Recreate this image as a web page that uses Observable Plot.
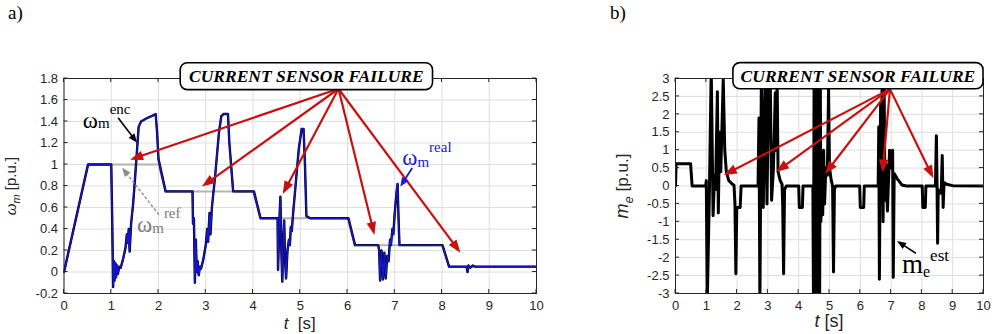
<!DOCTYPE html>
<html><head><meta charset="utf-8">
<script src="https://cdn.jsdelivr.net/npm/d3@7"></script>
<script src="https://cdn.jsdelivr.net/npm/@observablehq/plot@0.6"></script>
<style>
html,body{margin:0;padding:0;background:#fff;}
#wrap{position:relative;width:999px;height:334px;overflow:hidden;}
.pan{position:absolute;top:0;}
.pan svg{overflow:visible;}
.tag{position:absolute;top:1px;font-family:"Liberation Serif","Times New Roman",serif;font-size:19px;color:#000;line-height:24px;}
</style></head><body>
<div id="wrap">
 <div id="pa" class="pan" style="left:0px"></div>
 <div id="pb" class="pan" style="left:560px"></div>
 <div class="tag" style="left:8px">a)</div>
 <div class="tag" style="left:610px">b)</div>
</div>
<script>
// ---------- tick values ----------
const tTicks = [0,1,2,3,4,5,6,7,8,9,10];
const wTicks = [-0.2,0,0.2,0.4,0.6,0.8,1,1.2,1.4,1.6,1.8];
const mTicks = [-3,-2.5,-2,-1.5,-1,-0.5,0,0.5,1,1.5,2,2.5,3];

// ---------- panel a: speed (p.u.) ----------
const wRefT = [0,0.5,2.0,2.15,4.0,4.15,6.0,6.15,8.0,8.15,10];
const wRefV = [0,1,1,0.75,0.75,0.5,0.5,0.25,0.25,0.05,0.05];

const wRealT = [0,0.51,1.0,1.02,1.04,1.06,1.07,1.09,1.1,1.12,
 1.14,1.17,1.2,1.25,1.3,1.33,1.35,1.37,1.39,1.42,
 1.46,1.5,1.54,1.58,1.63,1.75,1.9,1.94,1.97,2.0,
 2.15,2.72,2.73,2.75,2.77,2.79,2.81,2.83,2.85,2.88,
 2.9,2.95,3.0,3.03,3.05,3.08,3.1,3.13,3.2,3.28,
 3.33,3.38,3.47,3.5,3.58,4.02,4.16,4.52,4.53,4.56,
 4.58,4.6,4.62,4.64,4.66,4.68,4.7,4.73,4.76,4.78,
 4.8,4.82,4.85,4.9,4.97,5.03,5.07,5.1,5.13,5.21,
 6.02,6.16,6.65,6.67,6.69,6.72,6.75,6.78,6.81,6.84,
 6.87,6.9,6.92,6.95,6.97,7.0,7.04,7.06,7.08,7.1,
 8.01,8.15,8.52,8.54,8.56,8.6,8.65,8.7,10];
const wRealV = [0,1.0,1.0,0.5,-0.14,0.1,-0.08,0.08,-0.05,0.06,
 -0.02,0.05,0.04,0.12,0.22,0.35,0.27,0.4,0.19,0.45,
 0.62,0.85,1.1,1.35,1.4,1.43,1.46,1.47,1.3,1.05,
 0.75,0.75,0.45,0.5,-0.1,0.3,0.0,0.1,-0.03,0.05,
 0.03,0.12,0.25,0.4,0.28,0.55,0.35,0.6,0.9,1.3,
 1.45,1.47,1.47,1.2,0.75,0.75,0.5,0.5,0.02,0.5,
 0.7,0.2,-0.09,0.3,0.48,0.1,-0.06,0.2,0.3,0.25,
 0.42,0.38,0.55,0.8,1.15,1.33,1.33,1.0,0.52,0.5,
 0.5,0.25,0.25,0.2,-0.08,0.2,-0.07,0.18,-0.06,0.15,
 0.1,0.3,0.25,0.4,0.35,0.55,0.75,0.82,0.5,0.25,
 0.25,0.05,0.05,0.0,0.06,0.04,0.06,0.05,0.05];
const wEncT = wRealT;
const wEncV = wRealV;

// ---------- panel b: electromagnetic torque estimate (p.u.) ----------
const meT = [0,0.02,0.49,0.54,0.98,1.0,1.03,1.1,1.16,1.22,
 1.27,1.3,1.36,1.39,1.43,1.47,1.55,1.6,1.65,1.73,
 1.85,1.9,1.93,1.96,1.99,2.1,2.13,2.68,2.71,2.74,
 2.79,2.85,2.92,2.97,3.03,3.08,3.12,3.18,3.24,3.27,
 3.3,3.33,3.4,3.46,3.48,3.51,3.54,3.6,4.0,4.02,
 4.12,4.14,4.46,4.48,4.5,4.52,4.54,4.56,4.58,4.6,
 4.62,4.64,4.66,4.68,4.7,4.72,4.75,4.78,4.81,4.84,
 4.88,4.93,4.97,5.0,5.05,5.1,5.13,5.16,5.2,5.98,
 6.0,6.11,6.13,6.58,6.6,6.62,6.66,6.68,6.71,6.74,
 6.77,6.8,6.84,6.88,6.95,6.98,7.05,7.07,7.1,7.2,
 7.35,7.5,8.01,8.03,8.11,8.13,8.44,8.47,8.49,8.51,
 8.53,8.6,8.63,8.66,8.69,8.72,8.8,9.0,10];
const meV = [0,0.62,0.62,0,0,0.15,-3.3,-0.2,3.3,-0.83,
 0.3,-0.1,2.63,-0.75,1.5,0.4,2.97,1.0,0.4,0.15,
 0.05,0.02,-0.5,-2.45,-0.6,-0.6,0,0,1.9,-3.3,
 3.3,-0.6,3.3,-0.5,3.3,2.7,-0.4,0.5,2.6,1.0,
 2.95,0.4,0.15,0.05,-0.5,-2.45,-0.1,0,0,-0.6,
 -0.6,0,0,-3.3,3.3,-3.3,3.3,-3.3,3.3,-3.3,
 3.3,-3.3,3.3,-3.3,3.3,-1.0,0.3,-0.8,1.0,-0.5,
 0.5,0.3,2.7,0.5,0.2,0.0,-2.4,-0.1,0,0,
 -0.6,-0.6,0,0,1.65,-2.6,2.3,-0.5,3.3,-1.0,
 3.3,-0.4,0.6,-0.7,1.0,0.5,1.0,-2.55,0.35,0.2,
 0.03,0,0,-0.6,-0.6,0,0,1.4,0.2,-1.6,
 -0.1,-0.2,-0.15,0.85,-0.6,0.1,0.05,0.01,0];

// ---------- annotations (data coordinates) ----------
const titleText = "CURRENT SENSOR FAILURE";
const boxA = [2.47, 7.81, 1.942, 1.692];     // t0, t1, vTop, vBottom
const boxB = [1.88, 10.0, 3.43, 2.70];
const failAFrom = [5.82, 1.70];
const failAToT = [1.41, 2.93, 4.64, 6.58, 8.40];
const failAToV = [1.04, 0.79, 0.72, 0.34, 0.175];
const failBFrom = [6.98, 2.69];
const failBToT = [1.59, 3.28, 4.87, 6.74, 8.39];
const failBToV = [0.29, 0.38, 0.32, 0.36, 0.20];

const SANS = "'Liberation Sans', Arial, Helvetica, sans-serif";
const SERIF = "'Liberation Serif', 'Times New Roman', serif";
const zip = (T, V) => T.slice(0, Math.min(T.length, V.length)).map((t, i) => ({t, v: V[i]}));

function panel({width, ml, mr, yDomain, yTicks, lines}) {
  return Plot.plot({
    width, height: 334, marginTop: 78, marginBottom: 41, marginLeft: ml, marginRight: mr,
    style: {fontFamily: SANS, fontSize: "13px", color: "#262626", background: "transparent", overflow: "visible"},
    x: {domain: [0, 10]},
    y: {domain: yDomain},
    marks: [
      Plot.gridX({ticks: tTicks, stroke: "#dedede", strokeOpacity: 1}),
      Plot.gridY({ticks: yTicks, stroke: "#dedede", strokeOpacity: 1}),
      ...lines,
      Plot.frame({stroke: "#262626", strokeWidth: 1}),
      Plot.axisX({ticks: tTicks, tickSize: 0, tickPadding: 7, tickFormat: d => String(d), label: null}),
      Plot.axisY({ticks: yTicks, tickSize: 0, tickPadding: 6, tickFormat: d => String(d), label: null})
    ]
  });
}

const pa = panel({
  width: 560, ml: 63.5, mr: 24, yDomain: [-0.2, 1.8], yTicks: wTicks,
  lines: [
    Plot.line(zip(wRefT, wRefV), {x: "t", y: "v", stroke: "#b4b4b4", strokeWidth: 2, clip: true}),
    Plot.line(zip(wEncT, wEncV), {x: "t", y: "v", stroke: "#000", strokeWidth: 2.4, clip: true}),
    Plot.line(zip(wRealT, wRealV), {x: "t", y: "v", stroke: "#1414c8", strokeWidth: 1.5, clip: true})
  ]
});
const pb = panel({
  width: 439, ml: 115, mr: 16, yDomain: [-3, 3], yTicks: mTicks,
  lines: [
    Plot.line(zip(meT, meV), {x: "t", y: "v", stroke: "#000", strokeWidth: 3, clip: true})
  ]
});
document.getElementById("pa").appendChild(pa);
document.getElementById("pb").appendChild(pb);

function arrow(g, x0, y0, x1, y1, color, w, hl, hw, dash) {
  const dx = x1 - x0, dy = y1 - y0, L = Math.hypot(dx, dy), ux = dx / L, uy = dy / L;
  const bx = x1 - ux * hl, by = y1 - uy * hl;
  g.append("line").attr("x1", x0).attr("y1", y0).attr("x2", bx + ux).attr("y2", by + uy)
    .attr("stroke", color).attr("stroke-width", w).attr("stroke-dasharray", dash || null);
  g.append("path").attr("d", `M${x1},${y1}L${bx - uy * hw},${by + ux * hw}L${bx + uy * hw},${by - ux * hw}Z`)
    .attr("fill", color);
}
// parts: [text, fontSize, baselineOffset, italic]
function rich(g, x, y, parts, color, family, anchor, transform) {
  const t = g.append("text").attr("x", x).attr("y", y).attr("fill", color)
    .attr("font-family", family).attr("text-anchor", anchor || "start");
  if (transform) t.attr("transform", transform);
  let prev = 0;
  for (const [s, size, off, it] of parts) {
    t.append("tspan").attr("font-size", size).attr("dy", off - prev)
      .attr("font-style", it ? "italic" : null).text(s);
    prev = off;
  }
  return t;
}
function decorate(svg, box, from, toT, toV) {
  const sx = svg.scale("x"), sy = svg.scale("y");
  const X = v => sx.apply(v), Y = v => sy.apply(v);
  const g = d3.select(svg).append("g");
  // inward tick marks (MATLAB style)
  const [x0, x1] = sx.range, [yb, yt] = sy.range;
  for (const t of tTicks) {
    g.append("line").attr("x1", X(t)).attr("x2", X(t)).attr("y1", yb).attr("y2", yb - 4).attr("stroke", "#262626");
    g.append("line").attr("x1", X(t)).attr("x2", X(t)).attr("y1", yt).attr("y2", yt + 4).attr("stroke", "#262626");
  }
  for (const v of sy.domain === undefined ? [] : (svg === pa ? wTicks : mTicks)) {
    g.append("line").attr("x1", x0).attr("x2", x0 + 4).attr("y1", Y(v)).attr("y2", Y(v)).attr("stroke", "#262626");
    g.append("line").attr("x1", x1).attr("x2", x1 - 4).attr("y1", Y(v)).attr("y2", Y(v)).attr("stroke", "#262626");
  }
  // red failure arrows
  for (let i = 0; i < toT.length; i++) {
    arrow(g, X(from[0]), Y(from[1]), X(toT[i]), Y(toV[i]), "#c81010", 2.2, 13, 4.8);
  }
  // title box
  const bx0 = X(box[0]), bx1 = X(box[1]), by0 = Y(box[2]), by1 = Y(box[3]);
  g.append("rect").attr("x", bx0).attr("y", by0).attr("width", bx1 - bx0).attr("height", by1 - by0)
    .attr("rx", 7).attr("fill", "#fff").attr("stroke", "#000").attr("stroke-width", 1.6);
  g.append("text").attr("x", (bx0 + bx1) / 2).attr("y", (by0 + by1) / 2 + 6)
    .attr("text-anchor", "middle").attr("font-family", SERIF).attr("font-weight", "bold")
    .attr("font-style", "italic").attr("font-size", 17.5).attr("fill", "#000").text(titleText);
  return {g, X, Y};
}

// ---- panel a annotations ----
{
  const {g, X, Y} = decorate(pa, boxA, failAFrom, failAToT, failAToV);
  // omega_m^enc
  rich(g, X(0.41), Y(1.337), [["ω", 23, 0, false], ["m", 15, 0, false], ["enc", 15, -14, false]], "#000", SERIF);
  arrow(g, X(1.155), Y(1.43), X(1.557), Y(1.198), "#000", 1.6, 9, 3.6);
  // omega_m^ref
  rich(g, X(1.557), Y(0.37), [["ω", 23, 0, false], ["m", 15, 1, false], ["ref", 15, -14, false]], "#7a7a7a", SERIF);
  arrow(g, X(2.02), Y(0.528), X(1.24), Y(0.966), "#8c8c8c", 1.4, 9, 3.6, "3,2");
  // omega_m^real
  rich(g, X(7.17), Y(0.993), [["ω", 23, 0, false], ["m", 15, 2, false], ["real", 15, -13, false]], "#1a1ad0", SERIF);
  arrow(g, X(7.38), Y(0.963), X(7.13), Y(0.79), "#1a1ad0", 1.8, 9, 3.8);
  // axis labels
  rich(g, 16, 186, [["ω", 15, 0, true], ["m", 11, 4, true], [" [p.u.]", 15, 0, false]], "#262626", SANS, "middle", "rotate(-90,16,186)");
  rich(g, X(5), 329, [["t", 17, 0, true], ["  [s]", 17, 0, false]], "#262626", SANS, "middle");
}
// ---- panel b annotations ----
{
  const {g, X, Y} = decorate(pb, boxB, failBFrom, failBToT, failBToV);
  rich(g, X(7.37), Y(-2.45), [["m", 27, 0, false], ["e", 16, 4, false], ["est", 17, -12, false]], "#000", SERIF);
  arrow(g, X(7.82), Y(-1.89), X(7.21), Y(-1.55), "#000", 1.6, 9, 3.6);
  rich(g, 68, 186, [["m", 18, 0, true], ["e", 13, 5, true], [" [p.u.]", 17, 0, false]], "#262626", SANS, "middle", "rotate(-90,68,186)");
  rich(g, X(5), 327, [["t", 18, 0, true], [" [s]", 18, 0, false]], "#262626", SANS, "middle");
}
</script>
</body></html>
